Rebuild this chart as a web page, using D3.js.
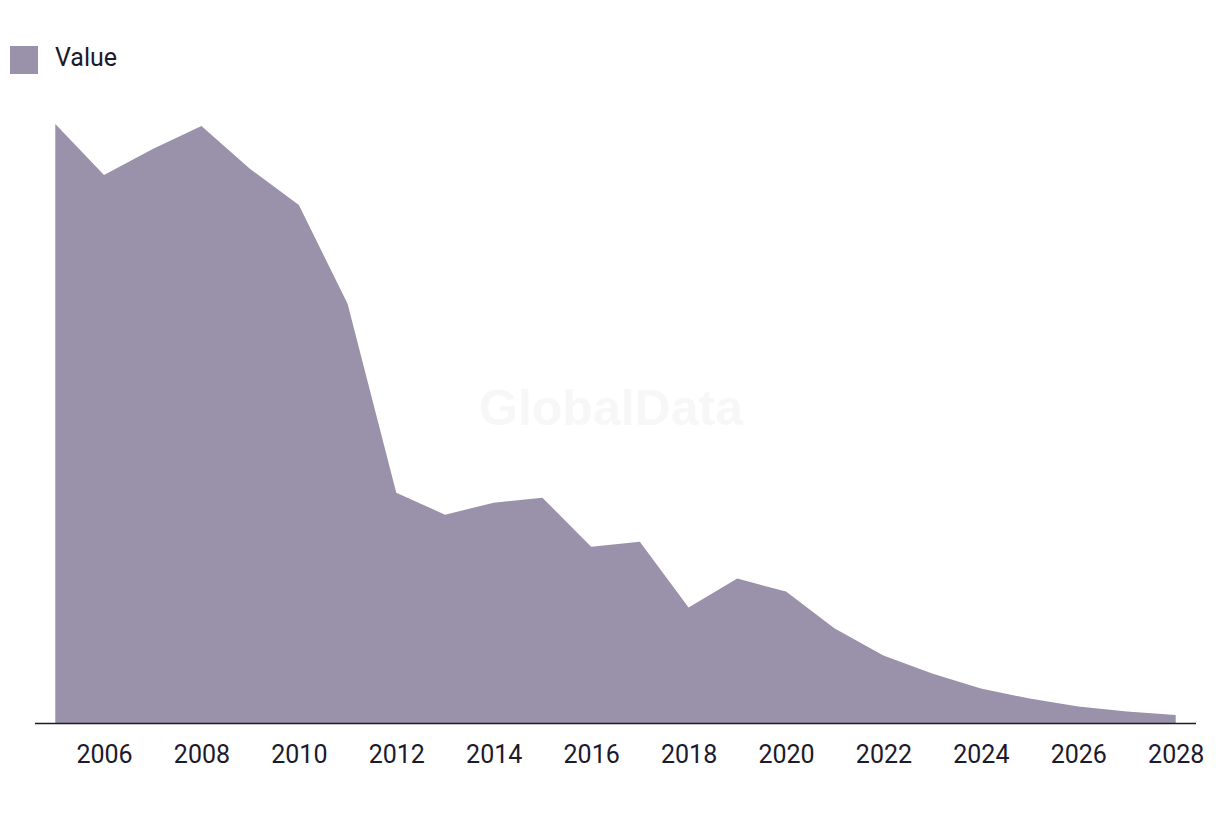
<!DOCTYPE html>
<html>
<head>
<meta charset="utf-8">
<script src="https://cdn.jsdelivr.net/npm/d3@7"></script>
<style>
  html, body { margin: 0; padding: 0; background: #fff; }
  svg { display: block; }
</style>
</head>
<body>
<svg id="chart" width="1220" height="814"></svg>
<script>
const years = [2005, 2006, 2007, 2008, 2009, 2010, 2011, 2012, 2013, 2014, 2015, 2016,
               2017, 2018, 2019, 2020, 2021, 2022, 2023, 2024, 2025, 2026, 2027, 2028];
const values = [600, 549, 575, 598, 555, 519, 420, 231, 209, 221, 226, 177,
                182, 116, 145, 132, 95, 68, 50, 35, 25, 17, 12, 8.5];
const tickYears = [2006, 2008, 2010, 2012, 2014, 2016, 2018, 2020, 2022, 2024, 2026, 2028];
const seriesName = "Value";

const data = years.map((y, i) => ({ year: y, value: values[i] }));

const svg = d3.select("#chart");
const color = "#9a91aa";
const textColor = "#1c1a2e";

const x = d3.scaleLinear().domain([2005, 2028]).range([55.3, 1175.7]);
const y = d3.scaleLinear().domain([0, 600]).range([723.5, 124]);

// watermark
svg.append("text")
  .attr("x", 611).attr("y", 425)
  .attr("text-anchor", "middle")
  .attr("font-family", "Liberation Sans, Arial, sans-serif")
  .attr("font-weight", "bold")
  .attr("font-size", 50)
  .attr("fill", "#f7f7f7")
  .text("GlobalData");

// area
const area = d3.area()
  .x(d => x(d.year))
  .y0(y(0))
  .y1(d => y(d.value));

svg.append("path")
  .datum(data)
  .attr("d", area)
  .attr("fill", color);

// axis
const axis = d3.axisBottom(x)
  .tickValues(tickYears)
  .tickFormat(d3.format("d"))
  .tickSize(0)
  .tickPadding(22);

const gAxis = svg.append("g")
  .attr("transform", `translate(0,${y(0)})`)
  .call(axis);

gAxis.select(".domain").remove();
gAxis.append("line")
  .attr("x1", 35).attr("x2", 1196)
  .attr("y1", 0).attr("y2", 0)
  .attr("stroke", textColor)
  .attr("stroke-width", 1.6);

gAxis.selectAll(".tick text")
  .attr("font-family", "Roboto, sans-serif")
  .attr("font-size", 25)
  .attr("fill", textColor)
  .attr("dy", "0.71em");

// legend
const legend = svg.append("g");
legend.append("rect")
  .attr("x", 10).attr("y", 46)
  .attr("width", 28).attr("height", 28)
  .attr("fill", color);
legend.append("text")
  .attr("x", 55).attr("y", 66)
  .attr("font-family", "Roboto, sans-serif")
  .attr("font-size", 25)
  .attr("fill", textColor)
  .text(seriesName);
</script>
</body>
</html>
